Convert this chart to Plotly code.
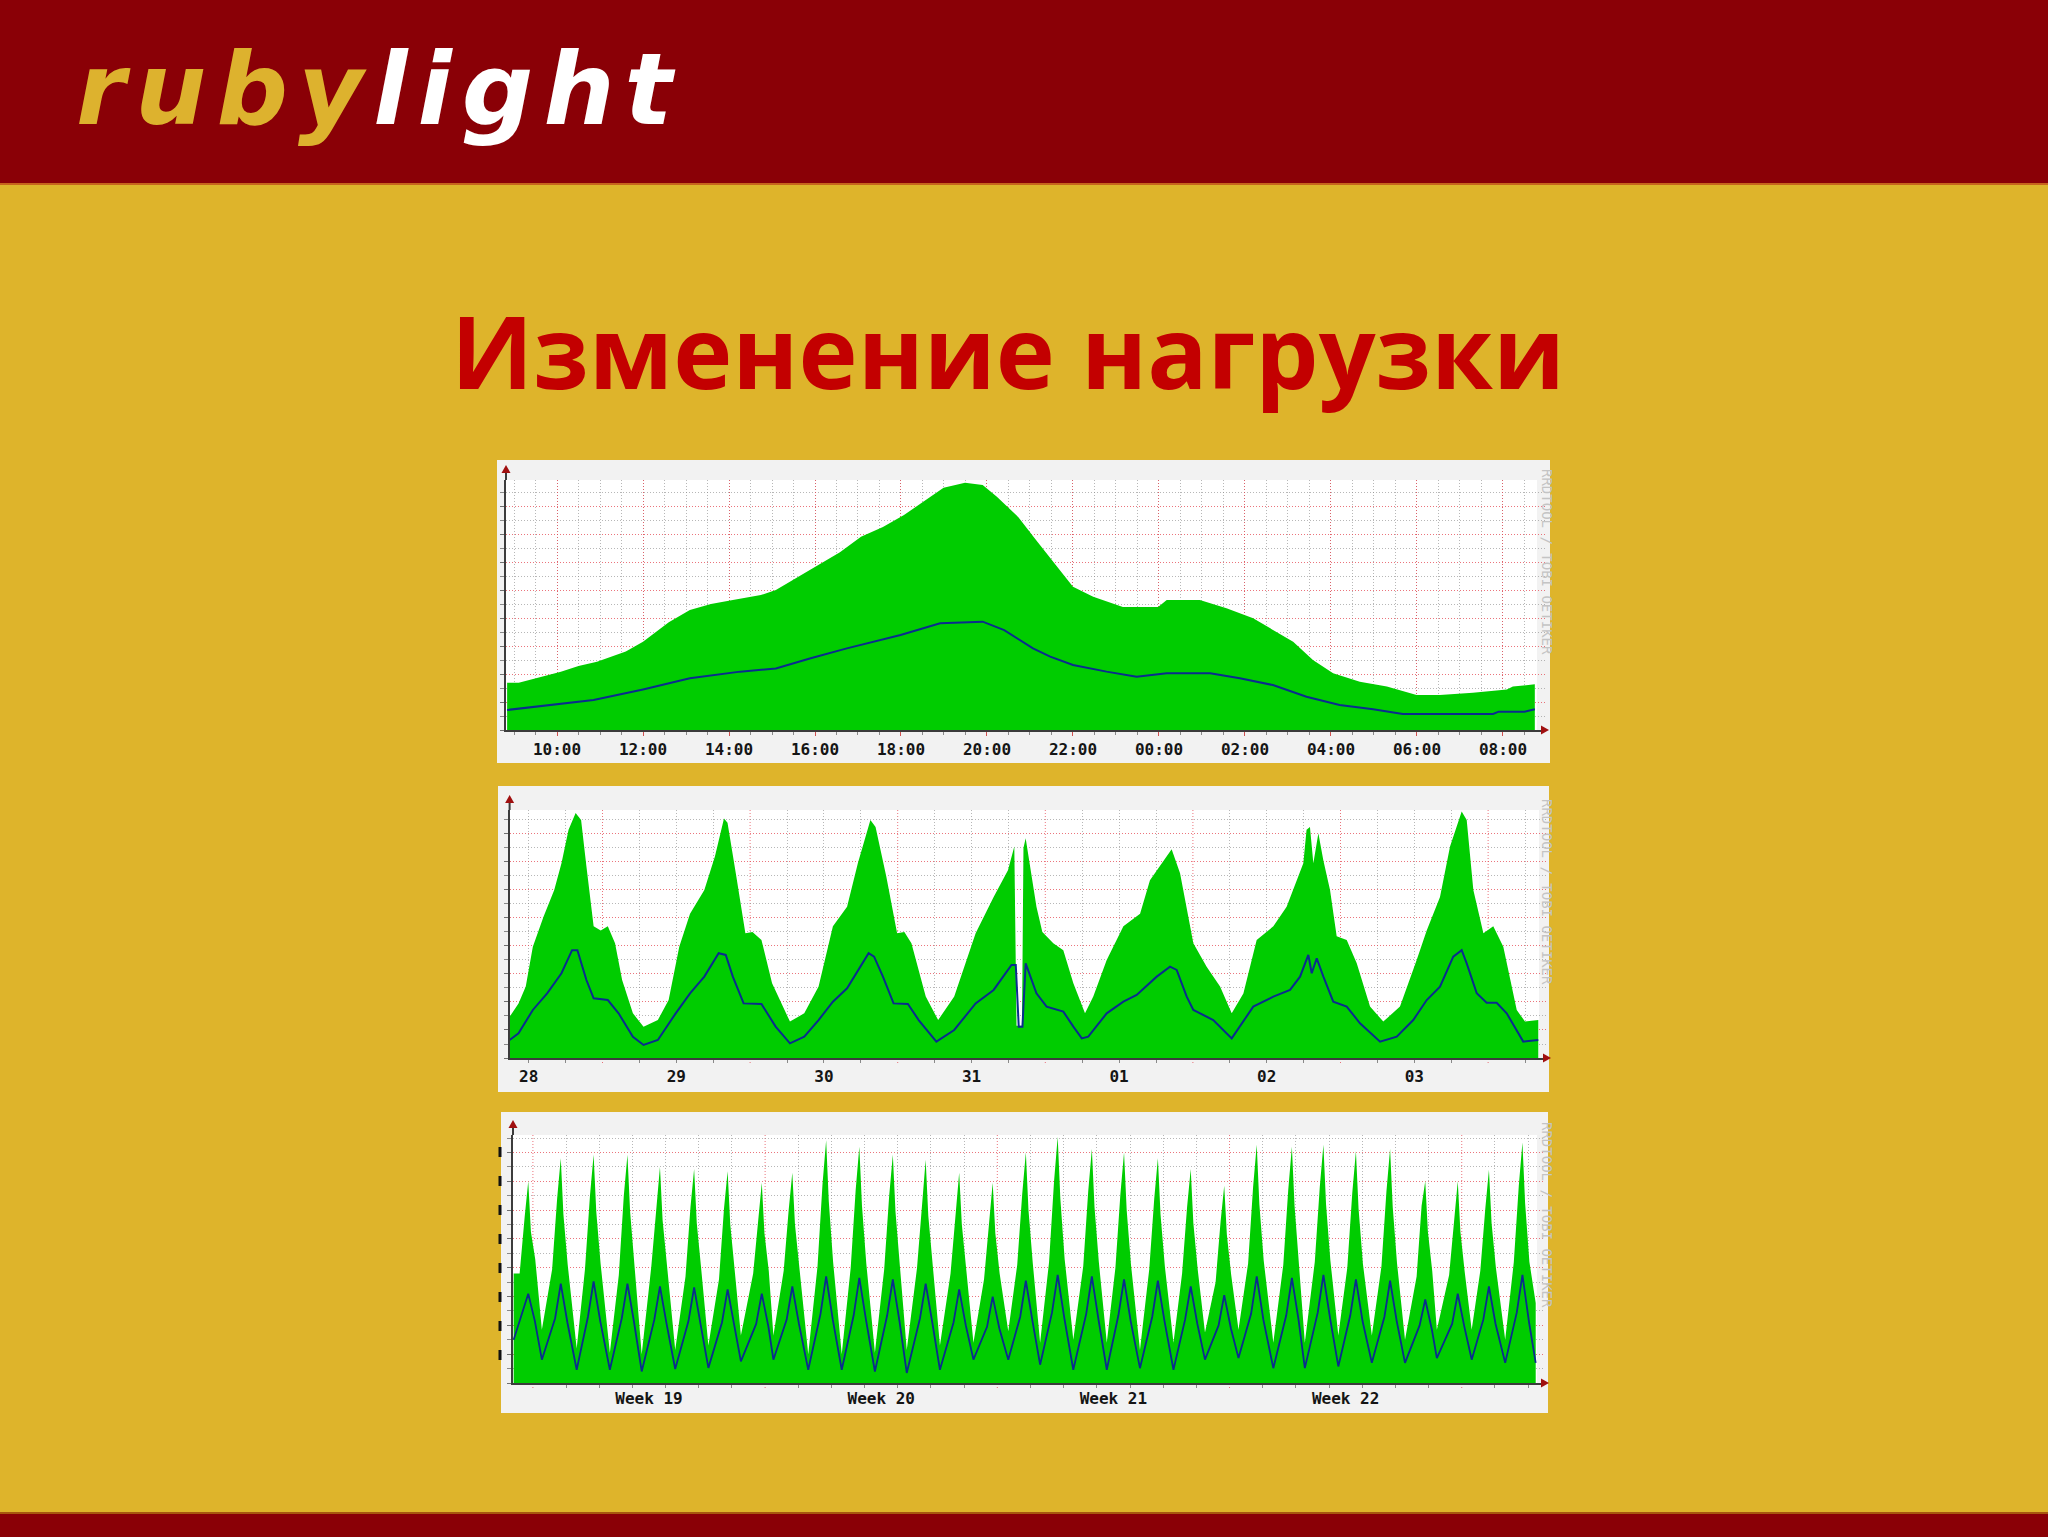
import plotly.graph_objects as go

W, H = 2048, 1537


def fx(x):
    return x / W


def fy(y):
    return 1 - y / H


# ---------------- DATA ----------------
# Panel 1: daily graph (hours since 00:00 of first day, load in grid units)
day_max_h = [8.84, 9.11, 10.09, 10.5, 10.93, 11.6, 12.0, 12.6, 13.09, 13.58, 14.09, 14.74, 15.09,
             15.58, 16.08, 16.58, 17.07, 17.58, 18.07, 18.57, 18.99, 19.49, 19.9, 20.23, 20.73,
             21.14, 21.62, 22.0, 22.47, 23.16, 23.98, 24.18, 24.95, 25.57, 26.19, 26.65, 27.12,
             27.58, 28.05, 28.67, 29.3, 29.99, 30.53, 31.3, 32.09, 32.23, 32.74]
day_max = [3.38, 3.38, 4.17, 4.57, 4.88, 5.6, 6.3, 7.7, 8.57, 9.0, 9.29, 9.64, 10.0,
           10.9, 11.8, 12.7, 13.8, 14.5, 15.36, 16.4, 17.3, 17.67, 17.5, 16.67, 15.2,
           13.57, 11.67, 10.24, 9.52, 8.79, 8.79, 9.29, 9.29, 8.69, 7.98, 7.14, 6.31,
           5.0, 4.05, 3.45, 3.1, 2.5, 2.5, 2.67, 2.9, 3.1, 3.26]
day_avg_h = [8.84, 9.93, 10.85, 12.0, 13.09, 14.26, 15.09, 15.9, 16.74, 17.99, 18.91, 19.9, 20.4,
             21.07, 21.47, 22.0, 22.78, 23.48, 24.18, 25.19, 25.88, 26.65, 27.43, 28.2, 28.98,
             29.67, 31.77, 31.9, 32.5, 32.74]
day_avg = [1.43, 1.79, 2.14, 2.9, 3.69, 4.17, 4.4, 5.12, 5.83, 6.79, 7.62, 7.74, 7.14,
           5.83, 5.24, 4.64, 4.17, 3.81, 4.05, 4.05, 3.69, 3.21, 2.38, 1.79, 1.48,
           1.14, 1.14, 1.31, 1.31, 1.48]
day_tick_h = [10, 12, 14, 16, 18, 20, 22, 24, 26, 28, 30, 32]
day_tick_labels = ["10:00", "12:00", "14:00", "16:00", "18:00", "20:00", "22:00",
                   "00:00", "02:00", "04:00", "06:00", "08:00"]

# Panel 2: weekly graph (days since 28th 00:00)
week_max_t = [0.371, 0.431, 0.48, 0.528, 0.601, 0.673, 0.722, 0.770, 0.818, 0.855, 0.891, 0.94,
              0.988, 1.036, 1.085, 1.133, 1.206, 1.278, 1.375, 1.448, 1.52, 1.593, 1.69, 1.762,
              1.823, 1.847, 1.907, 1.968, 2.016, 2.077, 2.149, 2.27, 2.367, 2.464, 2.561, 2.657,
              2.73, 2.815, 2.85, 2.923, 2.996, 3.045, 3.093, 3.19, 3.274, 3.383, 3.528, 3.65,
              3.747, 3.79, 3.805, 3.842, 3.852, 3.867, 3.94, 3.98, 4.054, 4.122, 4.19, 4.269,
              4.325, 4.416, 4.529, 4.642, 4.709, 4.8, 4.856, 4.913, 5.003, 5.093, 5.184, 5.263,
              5.342, 5.432, 5.545, 5.635, 5.703, 5.748, 5.77, 5.793, 5.816, 5.85, 5.884, 5.929,
              5.974, 6.042, 6.11, 6.2, 6.29, 6.403, 6.516, 6.584, 6.674, 6.742, 6.821, 6.855,
              6.9, 6.968, 7.035, 7.103, 7.194, 7.25, 7.34]
week_max = [2.95, 3.9, 5.1, 7.95, 10.1, 12.0, 13.9, 16.3, 17.5, 17.0, 13.7, 9.4,
            9.1, 9.4, 8.2, 5.57, 3.19, 2.24, 2.71, 4.14, 7.95, 10.3, 12.0, 14.4,
            17.1, 16.8, 12.95, 8.9, 9.0, 8.43, 5.33, 2.6, 3.19, 5.1, 9.4, 10.8,
            13.9, 17.0, 16.5, 12.95, 8.9, 9.0, 8.2, 4.4, 2.71, 4.4, 8.9, 11.5,
            13.4, 15.1, 2.3, 2.3, 15.0, 15.7, 10.8, 9.0, 8.2, 7.7, 5.33, 3.19,
            4.4, 7.0, 9.4, 10.3, 12.7, 14.1, 14.9, 13.2, 8.2, 6.52, 5.1, 3.19,
            4.6, 8.43, 9.4, 10.8, 12.7, 13.9, 16.3, 16.5, 13.9, 16.05, 14.1, 12.0,
            8.7, 8.43, 6.76, 3.67, 2.6, 3.67, 7.0, 9.1, 11.5, 15.1, 17.6, 17.0,
            12.0, 8.9, 9.4, 7.95, 3.43, 2.6, 2.71]
week_avg_t = [0.371, 0.431, 0.528, 0.625, 0.722, 0.794, 0.83, 0.891, 0.94, 1.036, 1.109, 1.206,
              1.278, 1.375, 1.496, 1.593, 1.69, 1.787, 1.835, 1.883, 1.956, 2.077, 2.173, 2.27,
              2.367, 2.464, 2.561, 2.657, 2.803, 2.84, 2.9, 2.972, 3.069, 3.142, 3.262, 3.383,
              3.528, 3.65, 3.771, 3.8, 3.82, 3.845, 3.867, 3.94, 4.009, 4.122, 4.19, 4.247,
              4.291, 4.416, 4.529, 4.619, 4.755, 4.845, 4.89, 4.958, 5.003, 5.138, 5.263, 5.409,
              5.545, 5.658, 5.726, 5.782, 5.805, 5.839, 5.884, 5.951, 6.042, 6.132, 6.268, 6.381,
              6.493, 6.584, 6.674, 6.764, 6.821, 6.855, 6.923, 6.99, 7.058, 7.126, 7.238, 7.34]
week_avg = [1.29, 1.76, 3.43, 4.62, 6.05, 7.7, 7.7, 5.57, 4.26, 4.14, 3.19, 1.52,
            0.93, 1.29, 3.19, 4.62, 5.81, 7.48, 7.36, 5.81, 3.9, 3.86, 2.24, 1.05,
            1.52, 2.71, 4.02, 4.98, 7.48, 7.24, 5.81, 3.9, 3.86, 2.71, 1.17, 2.0,
            3.9, 4.86, 6.64, 6.64, 2.24, 2.24, 6.76, 4.62, 3.67, 3.31, 2.24, 1.4,
            1.52, 3.19, 4.02, 4.5, 5.81, 6.52, 6.29, 4.38, 3.43, 2.71, 1.4, 3.67,
            4.38, 4.86, 5.81, 7.36, 6.05, 7.12, 5.81, 4.02, 3.67, 2.48, 1.17, 1.52,
            2.71, 4.14, 5.1, 7.24, 7.7, 6.76, 4.62, 3.95, 3.95, 3.19, 1.17, 1.29]
week_tick_t = [0.5, 1.5, 2.5, 3.5, 4.5, 5.5, 6.5]
week_tick_labels = ["28", "29", "30", "31", "01", "02", "03"]
week_midnights = [1, 2, 3, 4, 5, 6, 7]

# Panel 3: monthly graph (days since start of week 19), daily key points
month_peak_t = [-0.14, 0.84, 1.83, 2.85, 3.83, 4.86, 5.87, 6.90, 7.82, 8.84, 9.84, 10.85, 11.84,
                12.85, 13.86, 14.86, 15.82, 16.85, 17.82, 18.84, 19.83, 20.84, 21.82, 22.88,
                23.83, 24.81, 25.84, 26.90, 27.88, 28.82, 29.83]
month_peak_max = [14.0, 15.6, 15.85, 15.85, 15.0, 14.86, 14.7, 13.9, 14.6, 16.85, 16.4, 15.85,
                  15.5, 14.6, 13.9, 16.0, 17.1, 16.25, 16.0, 15.6, 14.86, 13.7, 16.55, 16.4,
                  16.55, 16.1, 16.25, 14.0, 14.0, 14.8, 16.7]
month_near_rise_max = [11.5, 12.8, 13.0, 13.0, 12.3, 12.2, 12.1, 11.4, 12.0, 13.8, 13.4, 13.0,
                       12.7, 12.0, 11.4, 13.1, 14.0, 13.3, 13.1, 12.8, 12.2, 11.2, 13.6, 13.4,
                       13.6, 13.2, 13.3, 12.3, 11.5, 12.1, 13.7]
month_near_fall_max = [10.5, 11.7, 11.9, 11.9, 11.3, 11.1, 11.0, 10.4, 11.0, 12.6, 12.3, 11.9,
                       11.6, 11.0, 10.4, 12.0, 12.8, 12.2, 12.0, 11.7, 11.1, 10.3, 12.4, 12.3,
                       12.4, 12.1, 12.2, 10.5, 10.5, 11.1, 12.5]
month_rise_max = [7.6, 7.9, 7.9, 7.5, 8.1, 7.4, 7.2, 7.6, 7.8, 8.1, 8.0, 7.9, 8.0, 7.6, 7.2, 8.2,
                  8.4, 8.1, 8.0, 7.9, 7.6, 7.0, 8.3, 8.2, 8.4, 8.0, 8.1, 7.4, 7.5, 7.8, 8.4]
month_fall_max = [8.6, 8.2, 8.3, 8.3, 8.1, 8.0, 7.9, 7.8, 8.0, 8.4, 8.3, 8.2, 8.1, 7.9, 7.6, 8.3,
                  8.6, 8.4, 8.2, 8.1, 7.9, 7.5, 8.5, 8.4, 8.5, 8.3, 8.3, 7.8, 7.7, 8.0, 8.4]
month_peak_avg = [6.2, 6.9, 7.05, 6.9, 6.7, 6.64, 6.5, 6.2, 6.7, 7.4, 7.3, 7.2, 6.9, 6.5, 6.0,
                  7.1, 7.5, 7.4, 7.2, 7.1, 6.7, 6.1, 7.4, 7.3, 7.5, 7.2, 7.1, 5.8, 6.2, 6.7, 7.5]
month_rise_avg = [5.0, 4.5, 4.6, 4.5, 4.4, 4.3, 4.2, 4.1, 4.4, 4.8, 4.7, 4.7, 4.5, 4.2, 3.9, 4.6,
                  4.9, 4.8, 4.7, 4.6, 4.4, 4.0, 4.8, 4.7, 4.9, 4.7, 4.6, 4.0, 4.1, 4.4, 4.9]
month_fall_avg = [4.3, 4.2, 4.3, 4.2, 4.1, 4.0, 4.0, 3.9, 4.1, 4.4, 4.4, 4.3, 4.2, 4.0, 3.8, 4.3,
                  4.5, 4.4, 4.3, 4.3, 4.1, 3.8, 4.4, 4.4, 4.5, 4.3, 4.3, 3.7, 3.9, 4.1, 4.2]
month_min_t = [0.27, 1.32, 2.32, 3.28, 4.29, 5.29, 6.27, 7.25, 8.30, 9.31, 10.31, 11.27, 12.27,
               13.28, 14.33, 15.29, 16.29, 17.30, 18.30, 19.31, 20.26, 21.27, 22.32, 23.27,
               24.28, 25.29, 26.29, 27.25, 28.30, 29.31]
month_min_max = [3.7, 2.4, 2.1, 2.0, 2.3, 2.6, 3.3, 3.3, 2.0, 2.0, 2.1, 2.3, 2.6, 2.8, 3.6, 2.8,
                 3.0, 2.8, 2.3, 2.8, 3.5, 3.7, 2.8, 2.8, 3.3, 3.3, 3.0, 3.7, 3.7, 3.0]
month_min_avg = [1.62, 0.92, 0.92, 0.8, 0.97, 1.05, 1.5, 1.62, 0.92, 0.92, 0.8, 0.7, 0.92, 1.62,
                 1.62, 1.27, 0.92, 0.92, 1.03, 0.92, 1.62, 1.73, 1.03, 1.03, 1.15, 1.4, 1.4,
                 1.73, 1.62, 1.4]
month_start = (-0.58, 7.6, 3.0)   # t, max, avg at left edge
month_end = (30.23, 5.55, 1.4)    # t, max, avg at right edge
month_tick_t = [3.5, 10.5, 17.5, 24.5]
month_tick_labels = ["Week 19", "Week 20", "Week 21", "Week 22"]
month_week_lines = [0, 7, 14, 21, 28]

# ---------------- STYLE ----------------
RED_BG = "#8A0006"
YELLOW = "#DEB42B"
GREEN = "#00CC00"
BLUE = "#0A2C8E"
CANVAS = "#F2F2F2"
RED_GRID = "rgba(228,70,80,0.75)"
GRAY_GRID = "rgba(135,135,135,0.6)"
DOT = "1px,2px"
AXIS_COL = "#3C3C3C"
ARROW_COL = "#A01010"
TICK_FONT = dict(family="DejaVu Sans Mono", size=16, color="#151515", weight="bold")

# typical shape offsets of a daily cycle in the month graph (days from the peak)
RISE_OFF, NEAR_RISE_OFF, NEAR_FALL_OFF, FALL_OFF = 0.26, 0.11, 0.08, 0.21
AVG_RISE_OFF, AVG_FALL_OFF = 0.17, 0.20

mt, mv = [month_start[0]], [month_start[1]]
at, av = [month_start[0]], [month_start[2]]
for i, pt in enumerate(month_peak_t):
    mt += [pt - RISE_OFF, pt - NEAR_RISE_OFF, pt, pt + NEAR_FALL_OFF, pt + FALL_OFF]
    mv += [month_rise_max[i], month_near_rise_max[i], month_peak_max[i],
           month_near_fall_max[i], month_fall_max[i]]
    at += [pt - AVG_RISE_OFF, pt, pt + AVG_FALL_OFF]
    av += [month_rise_avg[i], month_peak_avg[i], month_fall_avg[i]]
    if i < len(month_min_t):
        mt.append(month_min_t[i])
        mv.append(month_min_max[i])
        at.append(month_min_t[i])
        av.append(month_min_avg[i])
mt.append(month_end[0]); mv.append(month_end[1])
at.append(month_end[0]); av.append(month_end[2])

# ---------------- FIGURE ----------------
fig = go.Figure()


def add_pair(xm, ym, xa, ya, xr, yr, lw):
    fig.add_trace(go.Scatter(x=xm, y=ym, mode="lines", line=dict(width=0, color=GREEN),
                             fill="tozeroy", fillcolor=GREEN, xaxis=xr, yaxis=yr,
                             hoverinfo="skip", showlegend=False))
    fig.add_trace(go.Scatter(x=xa, y=ya, mode="lines", line=dict(width=lw, color=BLUE),
                             xaxis=xr, yaxis=yr, hoverinfo="skip", showlegend=False))


add_pair(day_max_h, day_max, day_avg_h, day_avg, "x", "y", 2)
add_pair(week_max_t, week_max, week_avg_t, week_avg, "x2", "y2", 2)
add_pair(mt, mv, at, av, "x3", "y3", 1.8)

# panel geometry in pixels: (panel_left, panel_top, panel_right, panel_bottom,
#                            plot_left, plot_top, plot_right, baseline)
panels = [
    (497, 460, 1550, 763, 506, 480, 1545, 730),
    (498, 786, 1549, 1092, 509.6, 810, 1547, 1058),
    (501, 1112, 1548, 1413, 513, 1135, 1545, 1383),
]
ranges_x = [[8.814, 32.977], [0.3706, 7.399], [-0.6, 30.51]]
ranges_y = [[0, 17.86], [0, 17.71], [0, 17.22]]

shapes = []
# header / footer
shapes.append(dict(type="rect", xref="paper", yref="paper", x0=0, x1=1, y0=fy(183), y1=1,
                   fillcolor=RED_BG, line_width=0, layer="below"))
shapes.append(dict(type="line", xref="paper", yref="paper", x0=0, x1=1, y0=fy(184), y1=fy(184),
                   line=dict(color="#C8641C", width=2), layer="below"))
shapes.append(dict(type="rect", xref="paper", yref="paper", x0=0, x1=1, y0=0, y1=fy(1514),
                   fillcolor=RED_BG, line_width=0, layer="below"))
shapes.append(dict(type="line", xref="paper", yref="paper", x0=0, x1=1, y0=fy(1513), y1=fy(1513),
                   line=dict(color="#A8560E", width=2), layer="below"))

for (pl, pt, pr, pb, al, at_, ar, bl) in panels:
    shapes.append(dict(type="rect", xref="paper", yref="paper", x0=fx(pl), x1=fx(pr),
                       y0=fy(pb), y1=fy(pt), fillcolor=CANVAS, line_width=0, layer="below"))
    shapes.append(dict(type="rect", xref="paper", yref="paper", x0=fx(al), x1=fx(ar - 8),
                       y0=fy(bl), y1=fy(at_), fillcolor="#FFFFFF", line_width=0, layer="below"))

# red major vertical grid lines for week and month graphs (under the data)
for t in week_midnights:
    shapes.append(dict(type="line", xref="x2", yref="paper", x0=t, x1=t,
                       y0=fy(panels[1][7] + 5), y1=fy(panels[1][5]),
                       line=dict(color=RED_GRID, width=1, dash=DOT), layer="below"))
for t in month_week_lines:
    shapes.append(dict(type="line", xref="x3", yref="paper", x0=t, x1=t,
                       y0=fy(panels[2][7] + 5), y1=fy(panels[2][5]),
                       line=dict(color=RED_GRID, width=1, dash=DOT), layer="below"))

for (pl, pt, pr, pb, al, at_, ar, bl) in panels:
    # y axis extension + arrow
    shapes.append(dict(type="line", xref="paper", yref="paper", x0=fx(al), x1=fx(al),
                       y0=fy(at_), y1=fy(at_ - 10), line=dict(color=AXIS_COL, width=2)))
    tip_y = at_ - 15
    shapes.append(dict(type="path", xref="paper", yref="paper",
                       path=f"M {fx(al - 4.5)},{fy(tip_y + 8)} L {fx(al + 4.5)},{fy(tip_y + 8)} "
                            f"L {fx(al)},{fy(tip_y)} Z",
                       fillcolor=ARROW_COL, line_width=0))
    # x axis arrow
    shapes.append(dict(type="path", xref="paper", yref="paper",
                       path=f"M {fx(ar - 4)},{fy(bl - 4.5)} L {fx(ar - 4)},{fy(bl + 4.5)} "
                            f"L {fx(ar + 4)},{fy(bl)} Z",
                       fillcolor=ARROW_COL, line_width=0))

# black dashed edge artefact at left of month panel
shapes.append(dict(type="line", xref="paper", yref="paper", x0=fx(500), x1=fx(500),
                   y0=fy(1360), y1=fy(1145), line=dict(color="#111111", width=3, dash="10px,19px")))

annotations = [
    dict(text="<b><i><span style='color:#DDB22E;letter-spacing:10px'>ruby</span>"
              "<span style='color:#FFFFFF;letter-spacing:10px'>light</span></i></b>",
         x=fx(74), y=fy(90), xref="paper", yref="paper", xanchor="left", yanchor="middle",
         showarrow=False, font=dict(family="DejaVu Sans", size=100)),
    dict(text="<b>Изменение нагрузки</b>", x=fx(1008), y=fy(350), xref="paper", yref="paper",
         xanchor="center", yanchor="middle", showarrow=False,
         font=dict(family="Open Sans", size=100, color="#C30000")),
]
for yc in (562, 892, 1215):
    annotations.append(dict(text="RRDTOOL / TOBI OETIKER", x=fx(1547), y=fy(yc), xref="paper",
                            yref="paper", textangle=90, showarrow=False,
                            xanchor="center", yanchor="middle",
                            font=dict(family="DejaVu Sans Mono", size=14, color="#C4C4C4")))


def xaxis_common(i):
    pl, pt, pr, pb, al, at_, ar, bl = panels[i]
    return dict(domain=[fx(al), fx(ar)], range=ranges_x[i], anchor=["y", "y2", "y3"][i],
                showline=True, linecolor=AXIS_COL, linewidth=2, zeroline=False,
                tickfont=TICK_FONT, tickmode="array", fixedrange=True)


def yaxis_common(i):
    pl, pt, pr, pb, al, at_, ar, bl = panels[i]
    return dict(domain=[fy(bl), fy(at_)], range=ranges_y[i], anchor=["x", "x2", "x3"][i],
                showline=True, linecolor=AXIS_COL, linewidth=2, zeroline=False,
                showticklabels=False, dtick=2, tick0=0, showgrid=True, gridcolor=RED_GRID,
                griddash=DOT, gridwidth=1, ticks="outside", ticklen=4, tickcolor="#707070",
                minor=dict(dtick=1, tick0=0, showgrid=True, gridcolor=GRAY_GRID, griddash=DOT,
                           ticks="outside", ticklen=4, tickcolor="#8A8A8A"),
                fixedrange=True)


# minor grid positions that are not covered by the red major lines
week_minor = [d + q for d in range(0, 8) for q in (0.25, 0.75)]
month_minor = [d for d in range(-1, 31) if d not in month_week_lines]

xa1 = xaxis_common(0)
xa1.update(tickvals=day_tick_h, ticktext=day_tick_labels, showgrid=True, gridcolor=RED_GRID,
           griddash=DOT, ticks="outside", ticklen=4, tickcolor="#D05050",
           minor=dict(dtick=0.5, tick0=0, showgrid=True, gridcolor=GRAY_GRID, griddash=DOT,
                      ticks="outside", ticklen=3, tickcolor="#8A8A8A"))
xa2 = xaxis_common(1)
xa2.update(tickvals=week_tick_t, ticktext=week_tick_labels, showgrid=True, gridcolor=GRAY_GRID,
           griddash=DOT, ticks="outside", ticklen=3, tickcolor="#8A8A8A",
           minor=dict(tickmode="array", tickvals=week_minor, showgrid=True, gridcolor=GRAY_GRID,
                      griddash=DOT, ticks="outside", ticklen=3, tickcolor="#8A8A8A"))
xa3 = xaxis_common(2)
xa3.update(tickvals=month_tick_t, ticktext=month_tick_labels, showgrid=False, ticks="",
           minor=dict(tickmode="array", tickvals=month_minor, showgrid=True, gridcolor=GRAY_GRID,
                      griddash=DOT, ticks="outside", ticklen=3, tickcolor="#8A8A8A"))

fig.update_layout(
    width=W, height=H, margin=dict(l=0, r=0, t=0, b=0),
    paper_bgcolor=YELLOW, plot_bgcolor="rgba(0,0,0,0)", showlegend=False,
    xaxis=xa1, yaxis=yaxis_common(0),
    xaxis2=xa2, yaxis2=yaxis_common(1),
    xaxis3=xa3, yaxis3=yaxis_common(2),
    shapes=shapes, annotations=annotations, hovermode=False,
)

fig.write_html("out.html", config={"displayModeBar": False},
               post_script="document.body.style.margin='0px';")
